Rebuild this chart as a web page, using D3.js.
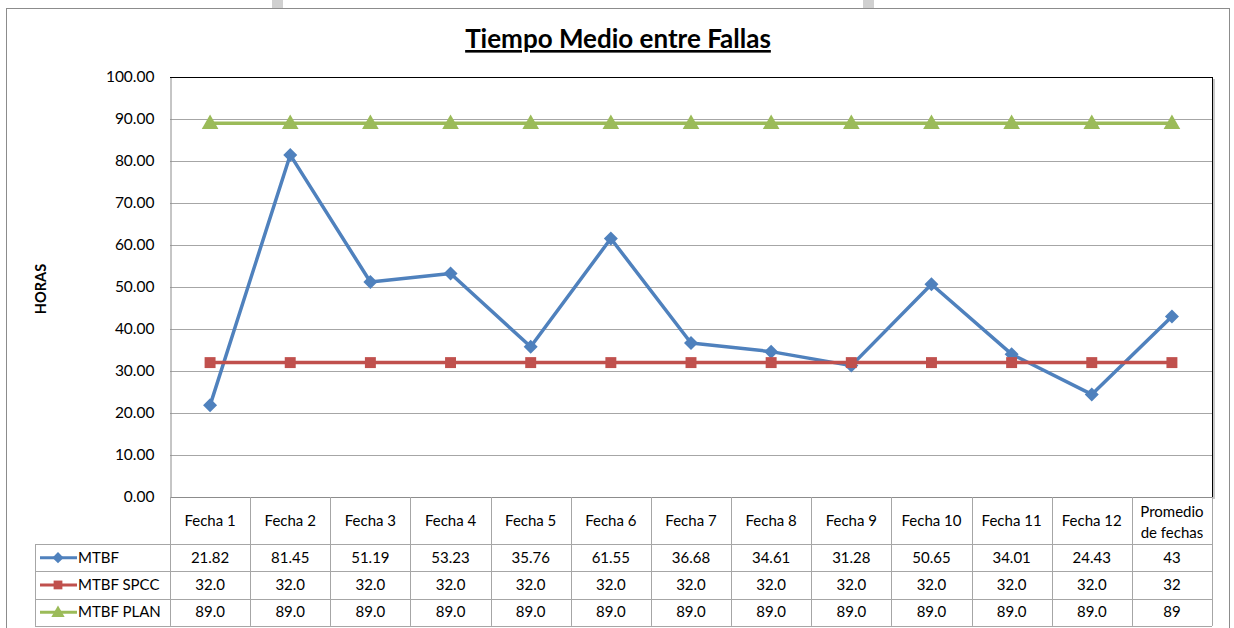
<!DOCTYPE html>
<html lang="es">
<head>
<meta charset="UTF-8">
<title>Tiempo Medio entre Fallas</title>
<style>
  body { margin: 0; background: #fff; }
  svg { display: block; font-family: Lato, "Open Sans", sans-serif; }
  .grid line { stroke: #a6a6a6; stroke-width: 1; }
  .cell { fill: none; stroke: #a6a6a6; stroke-width: 1; }
  .tbl text { font-size: 15px; fill: #000; }
</style>
</head>
<body>
<svg width="1234" height="628"></svg>
<script src="https://d3js.org/d3.v7.min.js"></script>
<script>
  const categories = ['Fecha 1','Fecha 2','Fecha 3','Fecha 4','Fecha 5','Fecha 6','Fecha 7','Fecha 8','Fecha 9','Fecha 10','Fecha 11','Fecha 12','Promedio de fechas'];
  const mtbf = [21.82, 81.45, 51.19, 53.23, 35.76, 61.55, 36.68, 34.61, 31.28, 50.65, 34.01, 24.43, 43];
  const mtbfSpcc = [32, 32, 32, 32, 32, 32, 32, 32, 32, 32, 32, 32, 32];
  const mtbfPlan = [89, 89, 89, 89, 89, 89, 89, 89, 89, 89, 89, 89, 89];
  const yTicks = [0, 10, 20, 30, 40, 50, 60, 70, 80, 90, 100];

  const series = [
    { name: 'MTBF', values: mtbf, color: '#4F81BD', marker: 'diamond', fmt: (v, i) => i === 12 ? d3.format('.0f')(v) : d3.format('.2f')(v) },
    { name: 'MTBF SPCC', values: mtbfSpcc, color: '#C0504D', marker: 'square', fmt: (v, i) => i === 12 ? d3.format('.0f')(v) : d3.format('.1f')(v) },
    { name: 'MTBF PLAN', values: mtbfPlan, color: '#9BBB59', marker: 'triangle', fmt: (v, i) => i === 12 ? d3.format('.0f')(v) : d3.format('.1f')(v) }
  ];

  const svg = d3.select('svg');
  const pLeft = 170, pRight = 1212, pTop = 77, pBottom = 497;
  const legendLeft = 35;
  const headerBottom = 544, rowH = 27.3;

  const x = d3.scaleBand().domain(categories).range([pLeft, pRight]);
  const y = d3.scaleLinear().domain([0, 100]).range([pBottom, pTop]);

  // page artifacts + outer frame
  svg.append('rect').attr('x', 272).attr('y', 0).attr('width', 11).attr('height', 8).attr('fill', '#d0d0d0');
  svg.append('rect').attr('x', 863).attr('y', 0).attr('width', 11).attr('height', 8).attr('fill', '#d0d0d0');
  svg.append('rect').attr('x', 6.5).attr('y', 8.5).attr('width', 1223).attr('height', 640)
    .attr('fill', 'none').attr('stroke', '#8c8c8c');

  // title
  svg.append('text').attr('x', 618).attr('y', 48).attr('text-anchor', 'middle')
    .attr('font-size', 26).attr('font-weight', 'bold').attr('text-decoration', 'underline')
    .text('Tiempo Medio entre Fallas');

  // y label
  svg.append('text').attr('transform', 'translate(46,289) rotate(-90)').attr('text-anchor', 'middle')
    .attr('font-size', 14.5).attr('font-weight', 'bold').text('HORAS');

  // gridlines
  svg.append('g').attr('class', 'grid')
    .selectAll('line').data(yTicks.filter(d => d > 0 && d < 100)).join('line')
    .attr('x1', pLeft).attr('x2', pRight).attr('y1', d => Math.round(y(d)) + 0.5).attr('y2', d => Math.round(y(d)) + 0.5);

  // y axis
  const yAxis = svg.append('g').attr('transform', `translate(${pLeft + 0.5},0)`)
    .call(d3.axisLeft(y).tickValues(yTicks).tickFormat(d3.format('.2f')).tickSize(0).tickPadding(16));
  yAxis.select('.domain').attr('stroke', '#8c8c8c');
  yAxis.selectAll('text').attr('font-size', 15.5).attr('font-family', 'Lato, sans-serif').attr('fill', '#000');

  // plot border top & right
  svg.append('line').attr('x1', pLeft).attr('x2', pRight + 0.5).attr('y1', pTop + 0.5).attr('y2', pTop + 0.5).attr('stroke', '#000');
  svg.append('line').attr('x1', pRight + 0.5).attr('x2', pRight + 0.5).attr('y1', pTop).attr('y2', pBottom).attr('stroke', '#000');
  svg.append('line').attr('x1', pRight + 2).attr('x2', pRight + 2).attr('y1', pTop + 2).attr('y2', pBottom + 2).attr('stroke', '#c8c8c8').attr('stroke-width', 2);

  // table
  const tbl = svg.append('g').attr('class', 'tbl');
  const colEdges = categories.map(c => x(c)).concat([pRight]);
  const tableBottom = headerBottom + rowH * series.length;
  tbl.append('line').attr('x1', pLeft).attr('x2', pRight).attr('y1', pBottom + 0.5).attr('y2', pBottom + 0.5).attr('stroke', '#8c8c8c');
  tbl.selectAll('line.v').data(colEdges).join('line').attr('class', 'cell v')
    .attr('x1', d => Math.round(d) + 0.5).attr('x2', d => Math.round(d) + 0.5)
    .attr('y1', pBottom).attr('y2', tableBottom);
  tbl.append('line').attr('class', 'cell').attr('x1', legendLeft + 0.5).attr('x2', legendLeft + 0.5).attr('y1', headerBottom).attr('y2', tableBottom);
  d3.range(series.length + 1).forEach(i => {
    const yy = Math.round(headerBottom + i * rowH) + 0.5;
    tbl.append('line').attr('class', 'cell').attr('x1', legendLeft).attr('x2', pRight).attr('y1', yy).attr('y2', yy);
  });
  categories.forEach(c => {
    const cx = x(c) + x.bandwidth() / 2;
    if (c === 'Promedio de fechas') {
      tbl.append('text').attr('x', cx).attr('y', 517).attr('text-anchor', 'middle').text('Promedio');
      tbl.append('text').attr('x', cx).attr('y', 538).attr('text-anchor', 'middle').text('de fechas');
    } else {
      tbl.append('text').attr('x', cx).attr('y', 526).attr('text-anchor', 'middle').text(c);
    }
  });

  const markerPath = {
    diamond: () => 'M0,-7L7,0L0,7L-7,0Z',
    square: d3.symbol(d3.symbolSquare, 120),
    triangle: d3.symbol(d3.symbolTriangle, 120)
  };

  series.forEach((s, r) => {
    const cy = headerBottom + r * rowH + rowH / 2;
    const g = tbl.append('g');
    g.append('line').attr('x1', legendLeft + 5).attr('x2', legendLeft + 42).attr('y1', cy).attr('y2', cy)
      .attr('stroke', s.color).attr('stroke-width', 3);
    g.append('path').attr('d', markerPath[s.marker]()).attr('fill', s.color)
      .attr('transform', `translate(${legendLeft + 23},${cy + (s.marker === 'triangle' ? 1 : 0)}) scale(0.8)`);
    g.append('text').attr('x', legendLeft + 43).attr('y', cy + 5).text(s.name);
    s.values.forEach((v, i) => {
      g.append('text').attr('x', x(categories[i]) + x.bandwidth() / 2).attr('y', cy + 5)
        .attr('text-anchor', 'middle').text(s.fmt(v, i));
    });
  });

  // series lines
  const line = d3.line().x((d, i) => x(categories[i]) + x.bandwidth() / 2).y(d => y(d));
  const plot = svg.append('g');
  series.forEach(s => {
    plot.append('path').datum(s.values).attr('d', line).attr('fill', 'none')
      .attr('stroke', s.color).attr('stroke-width', 3.5).attr('stroke-linejoin', 'round');
    plot.selectAll(null).data(s.values).join('path')
      .attr('d', markerPath[s.marker]())
      .attr('fill', s.color)
      .attr('transform', (d, i) => `translate(${x(categories[i]) + x.bandwidth() / 2},${y(d) + (s.marker === 'triangle' ? 1 : 0)})`);
  });
</script>
</body>
</html>
